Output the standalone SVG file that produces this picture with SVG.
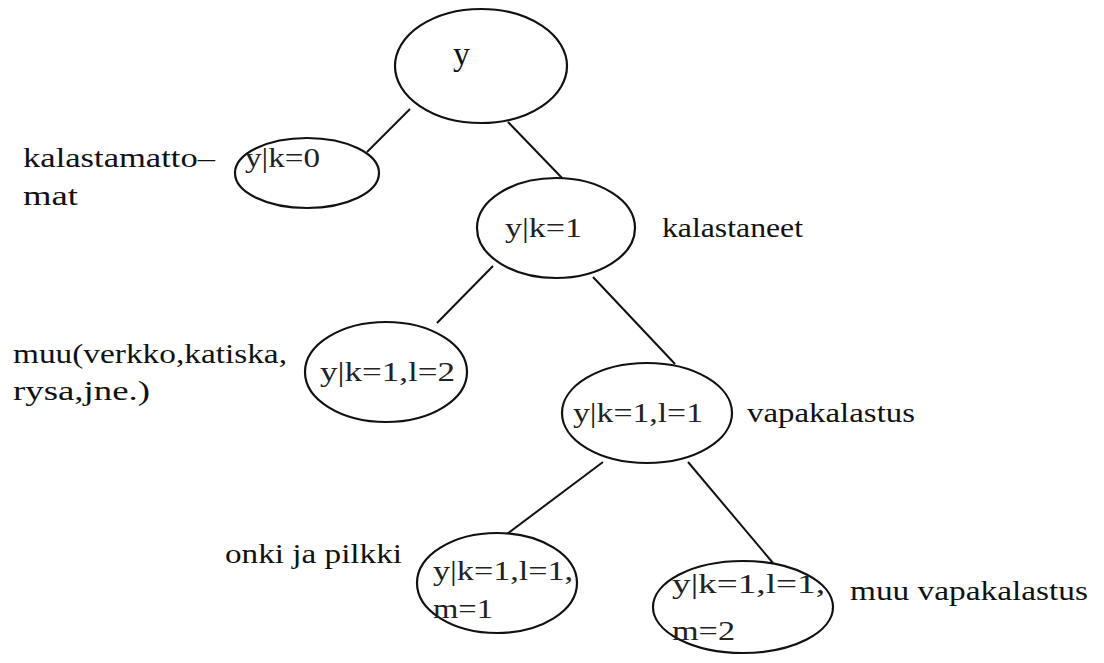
<svg xmlns="http://www.w3.org/2000/svg" width="1104" height="663" viewBox="0 0 1104 663">
<style>
.n{fill:#fff;stroke:#111;stroke-width:2.2}
.c line{stroke:#111;stroke-width:2}
text{font-family:"Liberation Serif","Times New Roman",Times,Tinos,"Noto Serif","DejaVu Serif",FreeSerif,serif;font-size:28px;fill:#111}
.in{font-size:27px;fill:#222}
</style>
<rect width="1104" height="663" fill="#fff"/>
<g class="c" id="connectors">
<line x1="410" y1="109" x2="367" y2="152"/>
<line x1="508" y1="122" x2="563" y2="179"/>
<line x1="493" y1="266" x2="437" y2="323"/>
<line x1="593" y1="277" x2="675" y2="364"/>
<line x1="603" y1="462" x2="507" y2="534"/>
<line x1="688" y1="462" x2="773" y2="563"/>
</g>
<g id="n_y"><ellipse class="n" cx="481" cy="66" rx="86" ry="57"/><text x="453" y="65" style="font-size:33px" textLength="17" lengthAdjust="spacingAndGlyphs">y</text></g>
<g id="n_k0"><ellipse class="n" cx="307" cy="173" rx="72" ry="35"/><text class="in" x="245" y="167" textLength="75" lengthAdjust="spacingAndGlyphs">y|k=0</text></g>
<g id="n_k1"><ellipse class="n" cx="556" cy="228" rx="79" ry="50"/><text class="in" x="505" y="237" textLength="77" lengthAdjust="spacingAndGlyphs">y|k=1</text></g>
<g id="n_k1l2"><ellipse class="n" cx="386" cy="372" rx="81" ry="50"/><text class="in" x="320" y="381" textLength="135" lengthAdjust="spacingAndGlyphs">y|k=1,l=2</text></g>
<g id="n_k1l1"><ellipse class="n" cx="647" cy="413" rx="85" ry="50"/><text class="in" x="573" y="422" textLength="130" lengthAdjust="spacingAndGlyphs">y|k=1,l=1</text></g>
<g id="n_m1"><ellipse class="n" cx="497" cy="583" rx="80" ry="50"/><text class="in" x="433" y="580" textLength="140" lengthAdjust="spacingAndGlyphs">y|k=1,l=1,</text><text class="in" x="433" y="618" textLength="60" lengthAdjust="spacingAndGlyphs">m=1</text></g>
<g id="n_m2"><ellipse class="n" cx="743" cy="607" rx="90" ry="46"/><text class="in" x="672" y="593" textLength="153" lengthAdjust="spacingAndGlyphs">y|k=1,l=1,</text><text class="in" x="672" y="640" textLength="63" lengthAdjust="spacingAndGlyphs">m=2</text></g>
<g id="labels">
<text x="23" y="167" textLength="192" lengthAdjust="spacingAndGlyphs">kalastamatto–</text>
<text x="23" y="205" textLength="55" lengthAdjust="spacingAndGlyphs">mat</text>
<text x="662" y="237" textLength="141" lengthAdjust="spacingAndGlyphs">kalastaneet</text>
<text x="13" y="363" textLength="274" lengthAdjust="spacingAndGlyphs">muu(verkko,katiska,</text>
<text x="13" y="400" textLength="137" lengthAdjust="spacingAndGlyphs">rysa,jne.)</text>
<text x="747" y="422" textLength="168" lengthAdjust="spacingAndGlyphs">vapakalastus</text>
<text x="225" y="563" textLength="177" lengthAdjust="spacingAndGlyphs">onki ja pilkki</text>
<text x="850" y="600" textLength="238" lengthAdjust="spacingAndGlyphs">muu vapakalastus</text>
</g>
</svg>
